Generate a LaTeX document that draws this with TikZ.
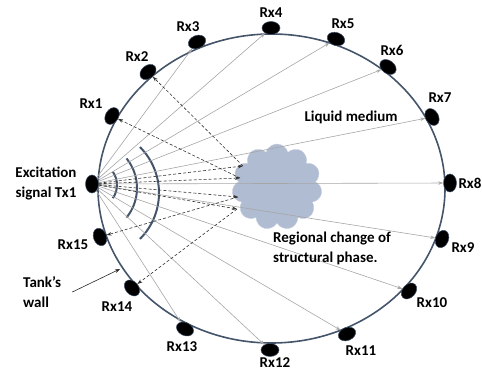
\documentclass[tikz,border=0pt]{standalone}
\usepackage{fontspec}
\setmainfont{Carlito}
\usetikzlibrary{shapes.geometric,shapes.symbols,arrows.meta}
\definecolor{wallc}{HTML}{44546A}
\definecolor{rayc}{HTML}{A6A6A6}
\definecolor{cloudc}{HTML}{B0BCD2}
\tikzset{
  sensor/.style={ellipse, fill=black, draw=wallc, line width=0.5pt, minimum width=18pt, minimum height=13pt, inner sep=0pt},
  ray/.style={rayc, line width=0.6pt, -{Stealth[length=5pt,width=3.5pt]}},
  scat/.style={black!80, line width=0.6pt, dash pattern=on 3pt off 2pt, -{Stealth[length=5pt,width=3.5pt]}},
  wave/.style={wallc, line width=2pt},
  lbl/.style={font=\fontsize{15}{20}\selectfont\bfseries, inner sep=0pt, align=left}
}
\begin{document}
\begin{tikzpicture}[x=1pt,y=-1pt]
\useasboundingbox (0,0) rectangle (482,371);
\def\cx{271.5}
\def\cy{188.5}

\node[cloud, cloud puffs=11, aspect=1.05, minimum width=90pt, minimum height=86pt, fill=cloudc, draw=cloudc!70!white, inner sep=0pt] (blob) at (277,187) {};

\draw[wallc, line width=1.6pt] (\cx,\cy) ellipse [x radius=173.5, y radius=154.5];

\draw[wave] (94,185) ++(-35:23) arc[start angle=-35, end angle=35, radius=23];
\draw[wave] (90,188) ++(-39:47) arc[start angle=-39, end angle=39, radius=47];
\draw[wave] (94,193) ++(-45:65) arc[start angle=-45, end angle=45, radius=65];

\node[sensor, rotate=90] (tx) at (92,184) {};
\node[sensor, rotate=60] (r1) at (112,116) {};
\node[sensor, rotate=40] (r2) at (148,72) {};
\node[sensor, rotate=22] (r3) at (197,42) {};
\node[sensor] (r4) at (271,28) {};
\node[sensor, rotate=-19] (r5) at (336,39) {};
\node[sensor, rotate=-37] (r6) at (388,67) {};
\node[sensor, rotate=-61] (r7) at (432,117) {};
\node[sensor, rotate=90] (r8) at (450,183) {};
\node[sensor, rotate=69] (r9) at (442,239) {};
\node[sensor, rotate=47] (r10) at (409,291) {};
\node[sensor, rotate=22] (r11) at (347,334) {};
\node[sensor] (r12) at (270,350) {};
\node[sensor, rotate=-26] (r13) at (185,329) {};
\node[sensor, rotate=-48] (r14) at (132,288) {};
\node[sensor, rotate=-70] (r15) at (100,237) {};

\foreach \i in {3,...,13}
  \draw[ray] (tx) -- (r\i);

\coordinate (c1) at (243,166);
\coordinate (c2) at (240,178);
\coordinate (c3) at (238,197);
\coordinate (c4) at (237,209);
\foreach \c in {c1,c2,c3,c4}
  \draw[scat] (tx) -- (\c);
\draw[scat] (c1) -- (r2);
\draw[scat] (c2) -- (r1);
\draw[scat] (c3) -- (r15);
\draw[scat] (c4) -- (r14);

\node[lbl] (l1) at (91,104) {Rx1};
\node[lbl] (l2) at (137,57) {Rx2};
\node[lbl] (l3) at (188,27) {Rx3};
\node[lbl] (l4) at (271,13) {Rx4};
\node[lbl] (l5) at (343,24) {Rx5};
\node[lbl] (l6) at (392,50) {Rx6};
\node[lbl] (l7) at (440,98) {Rx7};
\node[lbl] (l8) at (470,183) {Rx8};
\node[lbl] (l9) at (463,248) {Rx9};
\node[lbl] (l10) at (432,303) {Rx10};
\node[lbl] (l11) at (361,351) {Rx11};
\node[lbl] (l12) at (275,363) {Rx12};
\node[lbl] (l13) at (182,347) {Rx13};
\node[lbl] (l14) at (117,307) {Rx14};
\node[lbl] (l15) at (73,245) {Rx15};

\node[lbl, align=center] (exc) at (46,183) {Excitation\\signal Tx1};
\node[lbl] (liq) at (351,117) {Liquid medium};
\node[lbl, anchor=west] (phase) at (273,248) {Regional change of\\structural phase.};
\node[lbl, anchor=west] (tank) at (23,292) {Tank’s\\wall};

\coordinate (wallpt) at (120,269);
\draw[black!85, line width=0.6pt, -{Stealth[length=5pt,width=3.5pt]}] ([xshift=11pt]tank.east) -- (wallpt);
\end{tikzpicture}
\end{document}
